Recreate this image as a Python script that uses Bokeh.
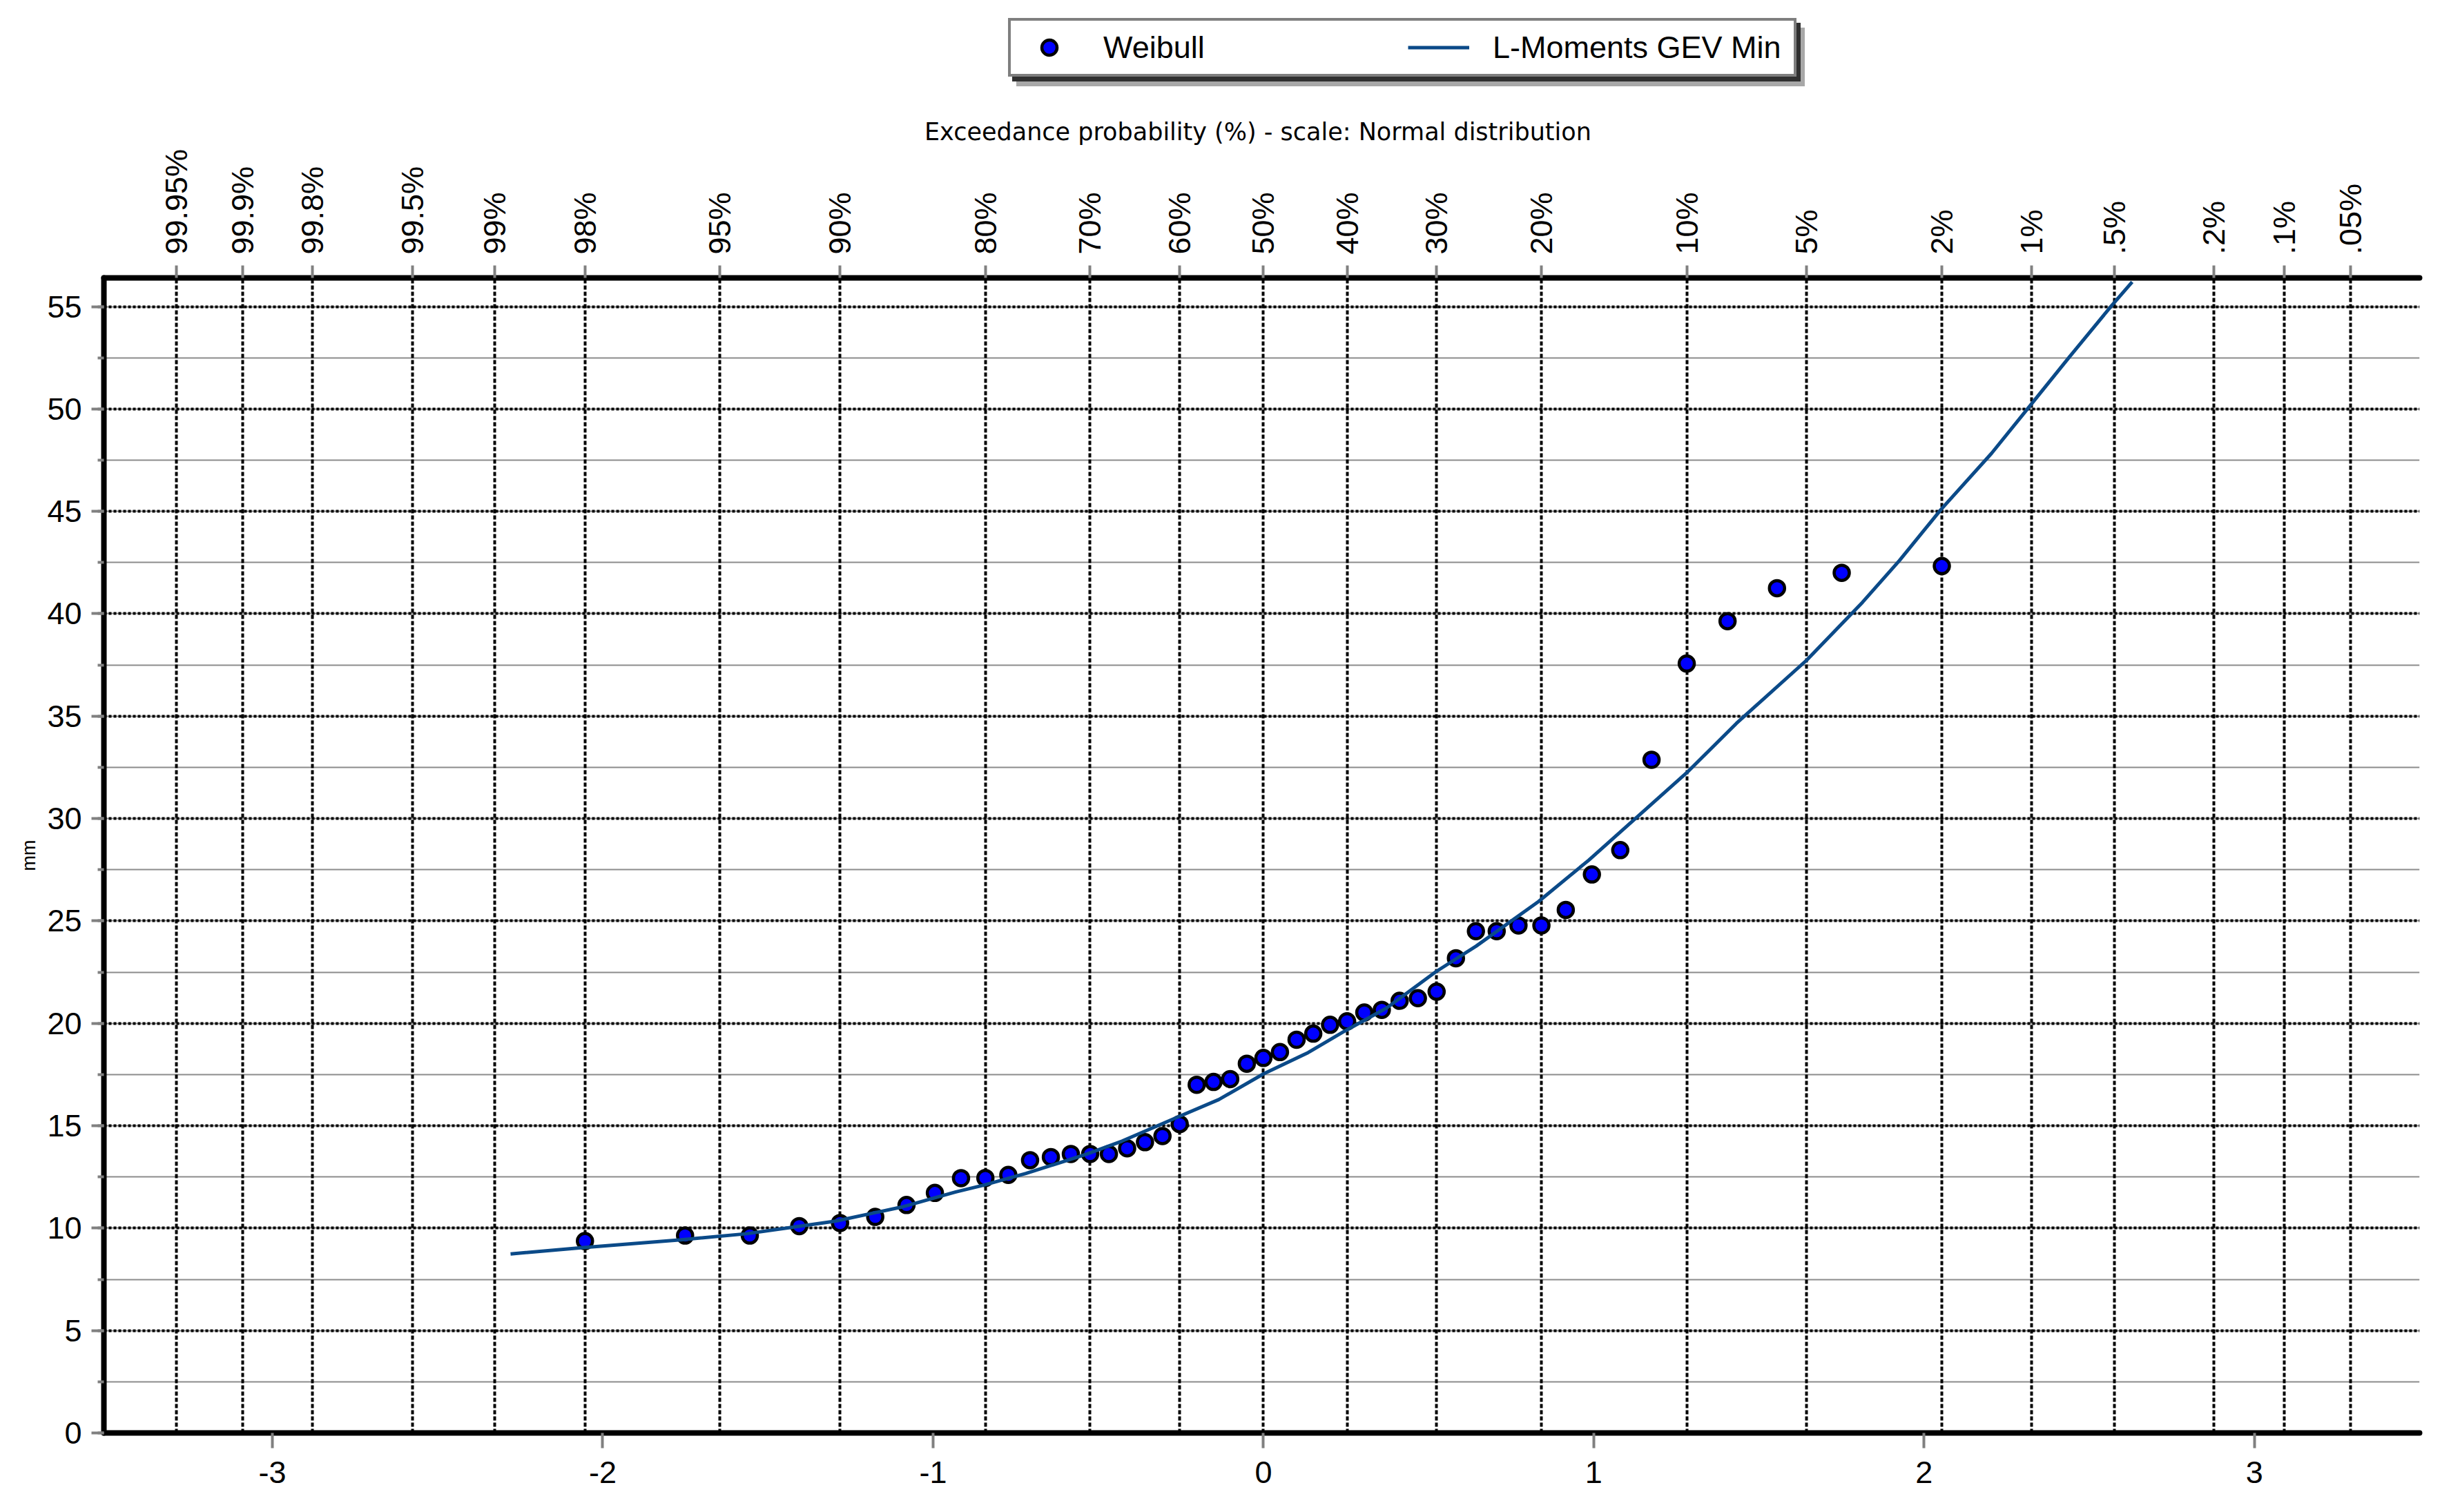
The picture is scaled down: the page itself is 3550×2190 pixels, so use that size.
from statistics import NormalDist

from bokeh.plotting import figure
from bokeh.layouts import column
from bokeh.models import (Range1d, LinearAxis, FixedTicker, SingleIntervalTicker,
                          Grid, Legend, LegendItem, ColumnDataSource)
from bokeh.embed import file_html
from bokeh.resources import INLINE

# ---------------- data ----------------
# observed values (mm), sorted ascending, plotted at Weibull positions i/(n+1)
weibull_mm = [9.37, 9.64, 9.64, 10.10, 10.25, 10.55, 11.13, 11.72, 12.44, 12.45,
              12.60, 13.32, 13.47, 13.62, 13.62, 13.62, 13.90, 14.20, 14.50, 15.08,
              17.00, 17.14, 17.28, 18.03, 18.31, 18.60, 19.20, 19.50, 19.93, 20.10,
              20.53, 20.66, 21.10, 21.23, 21.55, 23.18, 24.50, 24.50, 24.78, 24.78,
              25.54, 27.27, 28.46, 32.87, 37.57, 39.64, 41.25, 42.00, 42.33]

# fitted L-Moments GEV Min curve (normal variate, mm)
curve_z = [-2.279, -2.065, -1.763, -1.563, -1.296, -1.095, -0.931, -0.849, -0.719,
           -0.538, -0.428, -0.257, -0.135, 0.0, 0.135, 0.247, 0.373, 0.522,
           0.644, 0.833, 0.985, 1.2816, 1.432, 1.645, 1.813,
           1.925, 2.05, 2.204, 2.32, 2.441, 2.567, 2.63]
curve_mm = [8.74, 9.04, 9.43, 9.73, 10.34, 11.03, 11.77, 12.09, 12.67,
            13.60, 14.25, 15.44, 16.28, 17.53, 18.57, 19.63, 20.75, 22.52,
            23.77, 25.95, 27.97, 32.24, 34.65, 37.74, 40.55,
            42.59, 45.07, 47.83, 50.14, 52.56, 55.03, 56.20]

# top axis: exceedance probabilities (%)
prob_values = [99.95, 99.9, 99.8, 99.5, 99, 98, 95, 90, 80, 70, 60, 50,
               40, 30, 20, 10, 5, 2, 1, 0.5, 0.2, 0.1, 0.05]
prob_labels = ["99.95%", "99.9%", "99.8%", "99.5%", "99%", "98%", "95%", "90%",
               "80%", "70%", "60%", "50%", "40%", "30%", "20%", "10%", "5%", "2%",
               "1%", ".5%", ".2%", ".1%", ".05%"]

bottom_ticks = [-3, -2, -1, 0, 1, 2, 3]

# ---------------- derived positions ----------------
nd = NormalDist()
n = len(weibull_mm)
weibull_z = [nd.inv_cdf(i / (n + 1)) for i in range(1, n + 1)]
prob_z = [nd.inv_cdf(1 - v / 100.0) for v in prob_values]

FONT = "Liberation Sans"
W = 3542
LEG_H = 138

PT_STYLE = dict(size=22, fill_color="#0000FF", line_color="black", line_width=4.5)
LN_STYLE = dict(line_color="#0B4A88", line_width=5)

p = figure(width=W, height=2044, output_backend="svg", toolbar_location=None,
           x_range=Range1d(-3.51, 3.50), y_range=Range1d(0, 56.4),
           x_axis_type=None, y_axis_type=None,
           min_border_left=150, min_border_right=38,
           min_border_top=264, min_border_bottom=107)
p.outline_line_color = None
p.background_fill_color = "white"
p.border_fill_color = "white"


def style_axis(ax, standoff, tick_out=18):
    ax.axis_line_color = "black"
    ax.axis_line_width = 8
    ax.axis_line_cap = "round"
    ax.major_tick_line_color = "#808080"
    ax.major_tick_line_width = 4
    ax.major_tick_in = 0
    ax.major_tick_out = tick_out
    ax.minor_tick_line_color = "#808080"
    ax.minor_tick_line_width = 4
    ax.minor_tick_in = 0
    ax.minor_tick_out = 9
    ax.major_label_text_font = FONT
    ax.major_label_text_font_size = "45px"
    ax.major_label_text_color = "black"
    ax.major_label_standoff = standoff
    ax.axis_label_text_font = FONT
    ax.axis_label_text_font_style = "normal"
    ax.axis_label_text_color = "black"


y_ticker = SingleIntervalTicker(interval=5, num_minor_ticks=2)
left = LinearAxis(ticker=y_ticker, axis_label="mm")
style_axis(left, 14)
left.axis_label_text_font_size = "27px"
left.axis_label_standoff = 8
p.add_layout(left, "left")

bottom = LinearAxis(ticker=FixedTicker(ticks=bottom_ticks),
                    major_label_overrides={t: str(t) for t in bottom_ticks})
style_axis(bottom, 19, tick_out=22)
p.add_layout(bottom, "below")

top_ticker = FixedTicker(ticks=prob_z)
top = LinearAxis(ticker=top_ticker,
                 major_label_overrides={z: lab for z, lab in zip(prob_z, prob_labels)},
                 axis_label="Exceedance probability  (%) - scale: Normal distribution")
style_axis(top, 16)
top.major_label_orientation = "vertical"
top.axis_label_text_font = "DejaVu Sans"
top.axis_label_text_font_size = "35px"
top.axis_label_standoff = 2
p.add_layout(top, "above")

ygrid = Grid(dimension=1, ticker=y_ticker,
             grid_line_color="black", grid_line_width=4, grid_line_dash="4 3",
             minor_grid_line_color="#8c8c8c", minor_grid_line_width=2)
xgrid = Grid(dimension=0, ticker=top_ticker,
             grid_line_color="black", grid_line_width=4, grid_line_dash="6 3")
p.add_layout(ygrid)
p.add_layout(xgrid)

src = ColumnDataSource(dict(z=weibull_z, mm=weibull_mm))
p.scatter("z", "mm", source=src, **PT_STYLE)
p.line(curve_z, curve_mm, **LN_STYLE)

# ---------------- legend strip above the chart ----------------
# its ranges keep the proxy renderers' data out of view; only the legend shows
lf = figure(width=W, height=LEG_H, output_backend="svg", toolbar_location=None,
            x_axis_type=None, y_axis_type=None, min_border=0,
            x_range=Range1d(100, 101), y_range=Range1d(-2, -1))
lf.outline_line_color = None
lf.background_fill_color = "white"
lf.border_fill_color = "white"

leg_pt = lf.scatter(weibull_z, weibull_mm, **PT_STYLE)
leg_ln = lf.line(curve_z, curve_mm, **LN_STYLE)
ghost_pt = lf.scatter(weibull_z, weibull_mm, size=22, fill_alpha=0, line_alpha=0)
ghost_ln = lf.line(curve_z, curve_mm, line_alpha=0)

common = dict(orientation="horizontal", glyph_width=89, glyph_height=55,
              label_standoff=34, label_width=425, spacing=16, padding=11, margin=0,
              label_text_font=FONT, label_text_font_size="45px",
              border_line_width=4)

# column() aligns frames, so this strip's frame starts 150 px in from the left
LX, LY = 1310, 27
for dx, dy, col in [(12, -14, "#a8a8a8"), (6, -7, "#303030")]:
    sh = Legend(items=[LegendItem(label=" ", renderers=[ghost_pt]),
                       LegendItem(label=" ", renderers=[ghost_ln])],
                location=(LX + dx, LY + dy), background_fill_color=col,
                background_fill_alpha=1.0, border_line_color=col,
                label_text_alpha=0, **common)
    lf.add_layout(sh)

leg = Legend(items=[LegendItem(label="Weibull", renderers=[leg_pt]),
                    LegendItem(label="L-Moments GEV Min", renderers=[leg_ln])],
             location=(LX, LY), background_fill_color="white",
             background_fill_alpha=1.0, border_line_color="black",
             label_text_color="black", **common)
lf.add_layout(leg)

layout = column(lf, p, spacing=0)
open("out.html", "w").write(file_html(layout, INLINE))
